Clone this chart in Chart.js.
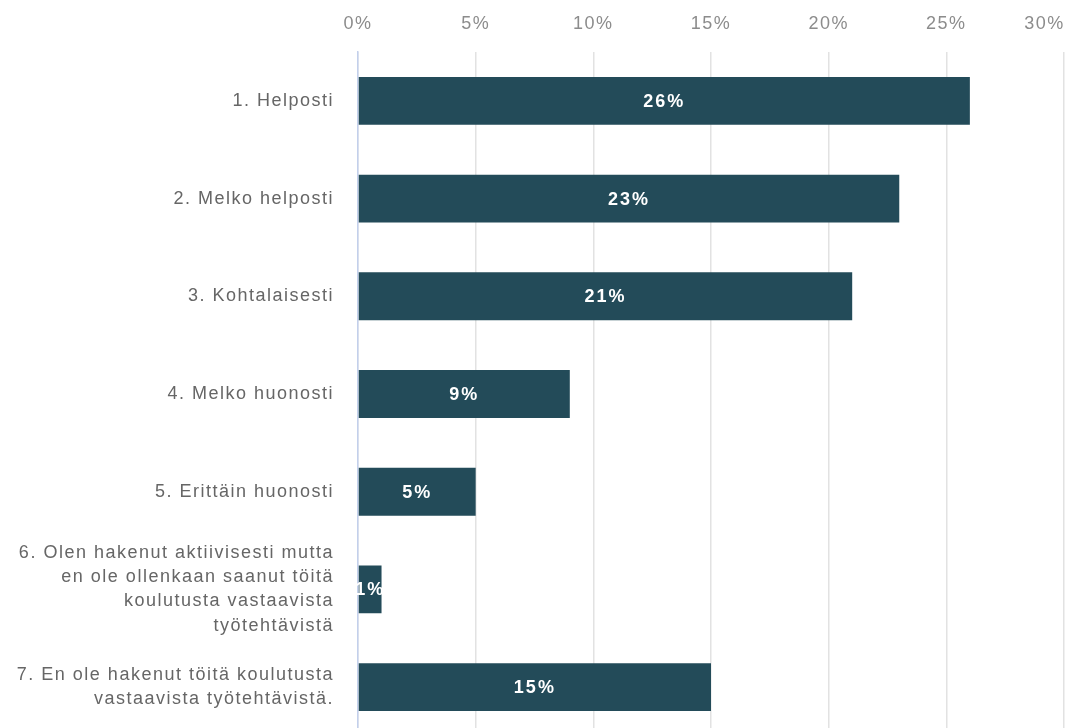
<!DOCTYPE html>
<html lang="fi">
<head>
<meta charset="utf-8">
<title>Työllistyminen koulutusta vastaaviin tehtäviin</title>
<script src="https://cdn.jsdelivr.net/npm/chart.js@4/dist/chart.umd.min.js"></script>
<style>
  html, body { margin: 0; padding: 0; background: #fff; overflow: hidden; }
  canvas { display: block; }
</style>
</head>
<body>
<canvas id="chart" width="1069" height="736"></canvas>
<script>
// vastausvaihtoehdot (monirivinen nimi = taulukko)
const categories = [
  "1. Helposti",
  "2. Melko helposti",
  "3. Kohtalaisesti",
  "4. Melko huonosti",
  "5. Erittäin huonosti",
  ["6. Olen hakenut aktiivisesti mutta", "en ole ollenkaan saanut töitä", "koulutusta vastaavista", "työtehtävistä"],
  ["7. En ole hakenut töitä koulutusta", "vastaavista työtehtävistä."]
];
const shares = [26, 23, 21, 9, 5, 1, 15];
const xTicks = [0, 5, 10, 15, 20, 25, 30];

const barColor = "#234b59";
const fontFamily = "'Liberation Sans', Arial, sans-serif";

// hieman harvempi kirjainväli koko kuvaan
const spacing = {
  id: "spacing",
  beforeUpdate(chart) { chart.ctx.letterSpacing = "1.5px"; },
  beforeDraw(chart) { chart.ctx.letterSpacing = "1.5px"; }
};

// prosenttiluku palkin keskelle
const barLabels = {
  id: "barLabels",
  afterDatasetsDraw(chart) {
    const ctx = chart.ctx;
    const meta = chart.getDatasetMeta(0);
    ctx.save();
    ctx.letterSpacing = "2px";
    ctx.font = "bold 18px " + fontFamily;
    ctx.fillStyle = "#ffffff";
    ctx.textAlign = "center";
    ctx.textBaseline = "middle";
    meta.data.forEach((bar, i) => {
      const cx = (bar.x + bar.base) / 2;
      ctx.fillText(shares[i] + "%", cx, bar.y + 1);
    });
    ctx.restore();
  }
};

new Chart(document.getElementById("chart"), {
  type: "bar",
  data: {
    labels: categories,
    datasets: [{
      data: shares,
      backgroundColor: barColor,
      borderWidth: 0,
      barPercentage: 0.49,
      categoryPercentage: 1
    }]
  },
  options: {
    indexAxis: "y",
    responsive: false,
    animation: false,
    layout: { padding: { top: 0, right: 5, bottom: 0, left: 0 } },
    plugins: {
      legend: { display: false },
      tooltip: { enabled: false }
    },
    scales: {
      x: {
        position: "top",
        min: 0,
        max: 30,
        afterBuildTicks(scale) {
          scale.ticks = xTicks.map((v) => ({ value: v }));
        },
        afterFit(scale) {
          scale.height = 52;
          scale.paddingRight = 0;
        },
        grid: { color: "#e2e2e2", lineWidth: 1.5, drawTicks: false },
        border: { display: false },
        ticks: {
          padding: 17,
          color: "#8c8c8c",
          font: { family: fontFamily, size: 18 },
          maxRotation: 0,
          autoSkip: false,
          // viimeinen merkintä pysyy kankaan sisällä
          callback: (v) => (v === 30 ? "30%      " : v + "%")
        }
      },
      y: {
        afterFit(scale) {
          scale.width = 358;
          // monirivinen alin nimi saa jatkua alareunan yli
          scale.paddingTop = 0;
          scale.paddingBottom = 0;
        },
        grid: { display: false, drawTicks: false },
        border: { display: true, color: "#c3d0ec", width: 1.5 },
        ticks: {
          padding: 24,
          autoSkip: false,
          color: "#666666",
          font: { family: fontFamily, size: 18, lineHeight: 1.34 }
        }
      }
    }
  },
  plugins: [spacing, barLabels]
});
</script>
</body>
</html>
